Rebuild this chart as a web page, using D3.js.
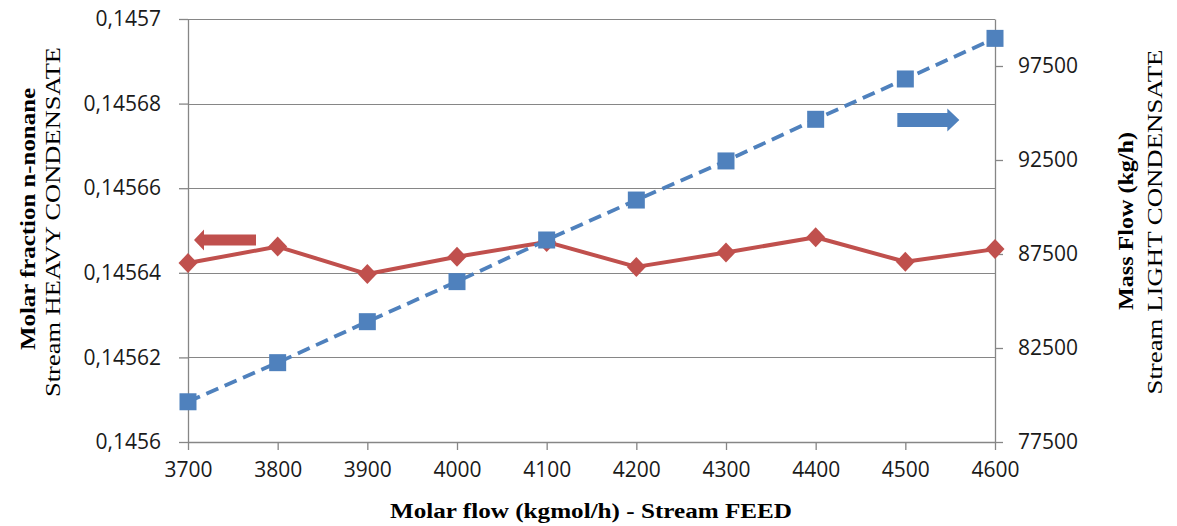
<!DOCTYPE html>
<html>
<head>
<meta charset="utf-8">
<script src="https://cdn.jsdelivr.net/npm/d3@7/dist/d3.min.js"></script>
<style>
  html, body { margin: 0; padding: 0; background: #fff; }
  svg { display: block; }
  .title { font-family: "Liberation Serif", "Times New Roman", Times, serif; }
</style>
</head>
<body>
<svg id="chart" width="1177" height="526"></svg>
<script>
// Data
const feedFlow = [3700, 3800, 3900, 4000, 4100, 4200, 4300, 4400, 4500, 4600];
const nonaneFraction = [0.1456423, 0.1456462, 0.1456397, 0.1456438, 0.1456473,
  0.1456414, 0.1456448, 0.1456484, 0.1456426, 0.1456456];
const lightMassFlow = [79640, 81720, 83900, 86030, 88245, 90370, 92450, 94665, 96810, 98970];

const xTicks = [3700, 3800, 3900, 4000, 4100, 4200, 4300, 4400, 4500, 4600];
const leftTicks = [0.1456, 0.14562, 0.14564, 0.14566, 0.14568, 0.1457];
const leftTickLabels = ['0,1456', '0,14562', '0,14564', '0,14566', '0,14568', '0,1457'];
const rightTicks = [77500, 82500, 87500, 92500, 97500];

const red = '#C0504D';
const blue = '#4F81BD';
const gridGrey = '#868686';

// plot area
const plotLeft = 188, plotRight = 995, plotTop = 19, plotBottom = 442;

const svg = d3.select('#chart');

const x = d3.scaleLinear().domain([3700, 4600]).range([plotLeft, plotRight]);
const yL = d3.scaleLinear().domain([0.1456, 0.1457]).range([plotBottom, plotTop]);
const yR = d3.scaleLinear().domain([77500, 100000]).range([plotBottom, plotTop]);

// horizontal gridlines
svg.append('g')
  .selectAll('line')
  .data(leftTicks)
  .enter()
  .append('line')
  .attr('x1', plotLeft)
  .attr('x2', plotRight)
  .attr('y1', (d) => Math.round(yL(d)) + 0.5)
  .attr('y2', (d) => Math.round(yL(d)) + 0.5)
  .attr('stroke', gridGrey)
  .attr('stroke-width', 1.2);

const tickFont = '"Open Sans", "Noto Sans", sans-serif';

function styleAxis(g) {
  g.select('.domain').attr('stroke', gridGrey).attr('stroke-width', 1.3);
  g.selectAll('.tick line').attr('stroke', gridGrey).attr('stroke-width', 1.3);
  g.selectAll('.tick text')
    .attr('fill', '#1a1a1a')
    .style('font-family', tickFont)
    .style('font-size', '21px');
}

// bottom axis
svg.append('g')
  .attr('transform', `translate(0,${plotBottom})`)
  .call(d3.axisBottom(x).tickValues(xTicks).tickFormat(d3.format('d'))
    .tickSizeInner(8).tickSizeOuter(0).tickPadding(12))
  .call(styleAxis);

// left axis
svg.append('g')
  .attr('transform', `translate(${plotLeft},0)`)
  .call(d3.axisLeft(yL).tickValues(leftTicks)
    .tickFormat((d, i) => leftTickLabels[i])
    .tickSizeInner(9).tickSizeOuter(0).tickPadding(18))
  .call(styleAxis);

// right axis
svg.append('g')
  .attr('transform', `translate(${plotRight},0)`)
  .call(d3.axisRight(yR).tickValues(rightTicks).tickFormat(d3.format('d'))
    .tickSizeInner(8).tickSizeOuter(0).tickPadding(15))
  .call(styleAxis);

// red series (left axis)
const redLine = d3.line()
  .x((d, i) => x(feedFlow[i]))
  .y((d) => yL(d));

svg.append('path')
  .datum(nonaneFraction)
  .attr('d', redLine)
  .attr('fill', 'none')
  .attr('stroke', red)
  .attr('stroke-width', 4)
  .attr('stroke-linejoin', 'round');

// blue series (right axis), dashed
const blueLine = d3.line()
  .x((d, i) => x(feedFlow[i]))
  .y((d) => yR(d));

svg.append('path')
  .datum(lightMassFlow)
  .attr('d', blueLine)
  .attr('fill', 'none')
  .attr('stroke', blue)
  .attr('stroke-width', 3.8)
  .attr('stroke-dasharray', '13,7');

// red diamonds
svg.append('g')
  .selectAll('path')
  .data(nonaneFraction)
  .enter()
  .append('path')
  .attr('transform', (d, i) => `translate(${x(feedFlow[i])},${yL(d)})`)
  .attr('d', 'M0,-10L9.5,0L0,10L-9.5,0Z')
  .attr('fill', red);

// blue squares
svg.append('g')
  .selectAll('rect')
  .data(lightMassFlow)
  .enter()
  .append('rect')
  .attr('x', (d, i) => x(feedFlow[i]) - 8.5)
  .attr('y', (d) => yR(d) - 8.5)
  .attr('width', 17)
  .attr('height', 17)
  .attr('fill', blue);

// arrows telling which axis each series uses
function arrowPath(x0, x1, yc, body, head, headLen) {
  // arrow from x0 (tail) to x1 (tip)
  const dir = Math.sign(x1 - x0);
  const hb = x1 - dir * headLen;
  return `M${x0},${yc - body}L${hb},${yc - body}L${hb},${yc - head}L${x1},${yc}` +
    `L${hb},${yc + head}L${hb},${yc + body}L${x0},${yc + body}Z`;
}

svg.append('path')
  .attr('d', arrowPath(x(3700) + 68, x(3700) + 6, yL(0.145648) + 1, 5.5, 10.5, 10))
  .attr('fill', red);

svg.append('path')
  .attr('d', arrowPath(x(4500) - 8, x(4500) + 54, yR(95000) + 7, 7, 11.5, 12))
  .attr('fill', blue);

// axis titles
function addTitle(txt, tx, ty, rot, len, bold, size) {
  svg.append('text')
    .attr('class', 'title')
    .attr('transform', `translate(${tx},${ty}) rotate(${rot})`)
    .attr('text-anchor', 'middle')
    .attr('textLength', len)
    .attr('lengthAdjust', 'spacingAndGlyphs')
    .style('font-size', `${size}px`)
    .style('font-weight', bold ? 'bold' : 'normal')
    .attr('fill', '#000')
    .text(txt);
}

addTitle('Molar fraction n-nonane', 35, 219, -90, 262, true, 20);
addTitle('Stream HEAVY CONDENSATE', 60, 222, -90, 350, false, 22);
addTitle('Mass Flow (kg/h)', 1133, 221, -90, 178, true, 20);
addTitle('Stream LIGHT CONDENSATE', 1162, 222, -90, 345, false, 22);
addTitle('Molar flow (kgmol/h) - Stream FEED', 591, 518, 0, 402, true, 20);
</script>
</body>
</html>
